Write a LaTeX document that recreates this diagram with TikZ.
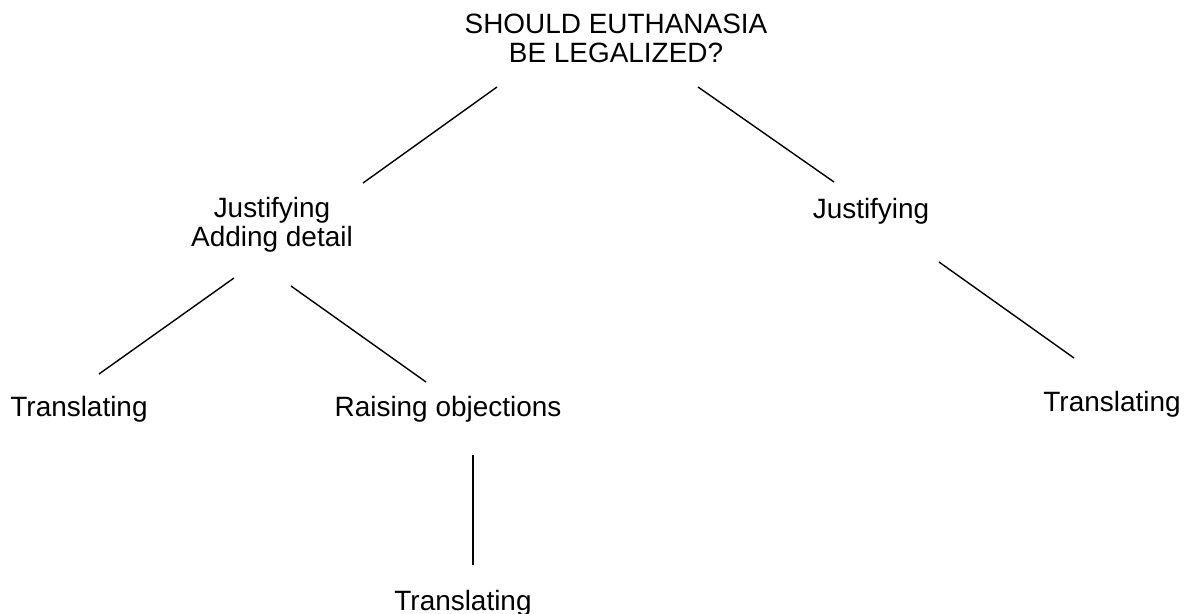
\documentclass[tikz,border=0pt]{standalone}
\usepackage{fontspec}
\setmainfont{Liberation Sans}
\begin{document}
\begin{tikzpicture}[x=0.02cm,y=-0.02cm,line width=0.8pt,every node/.style={font=\fontsize{15.9}{16.5}\selectfont,inner sep=0pt,align=center}]
\useasboundingbox (0,0) rectangle (1184,613);
% Question
\node[anchor=north] (q) at (616,13) {SHOULD EUTHANASIA\\BE LEGALIZED?};
% First level
\node[anchor=north] (jl) at (272,197) {Justifying\\Adding detail};
\node[anchor=base] (jr) at (871,218) {Justifying};
% Second level
\node[anchor=base] (tl) at (79,416) {Translating};
\node[anchor=base] (ro) at (448,416) {Raising objections};
\node[anchor=base] (tr) at (1112,411) {Translating};
% Third level
\node[anchor=base] (tb) at (463,610) {Translating};
% Branches
\draw ([shift={(-119,74)}]q.north) -- ([shift={(91,-14)}]jl.north);
\draw ([shift={(82,74)}]q.north) -- ([shift={(-37,-36)}]jr.base);
\draw ([shift={(-38,81)}]jl.north) -- ([shift={(20,-42)}]tl.base);
\draw ([shift={(19,89)}]jl.north) -- ([shift={(-22,-34)}]ro.base);
\draw ([shift={(68,44)}]jr.base) -- ([shift={(-38,-53)}]tr.base);
\draw ([shift={(25,39)}]ro.base) -- ([shift={(10,-45)}]tb.base);
\end{tikzpicture}
\end{document}
